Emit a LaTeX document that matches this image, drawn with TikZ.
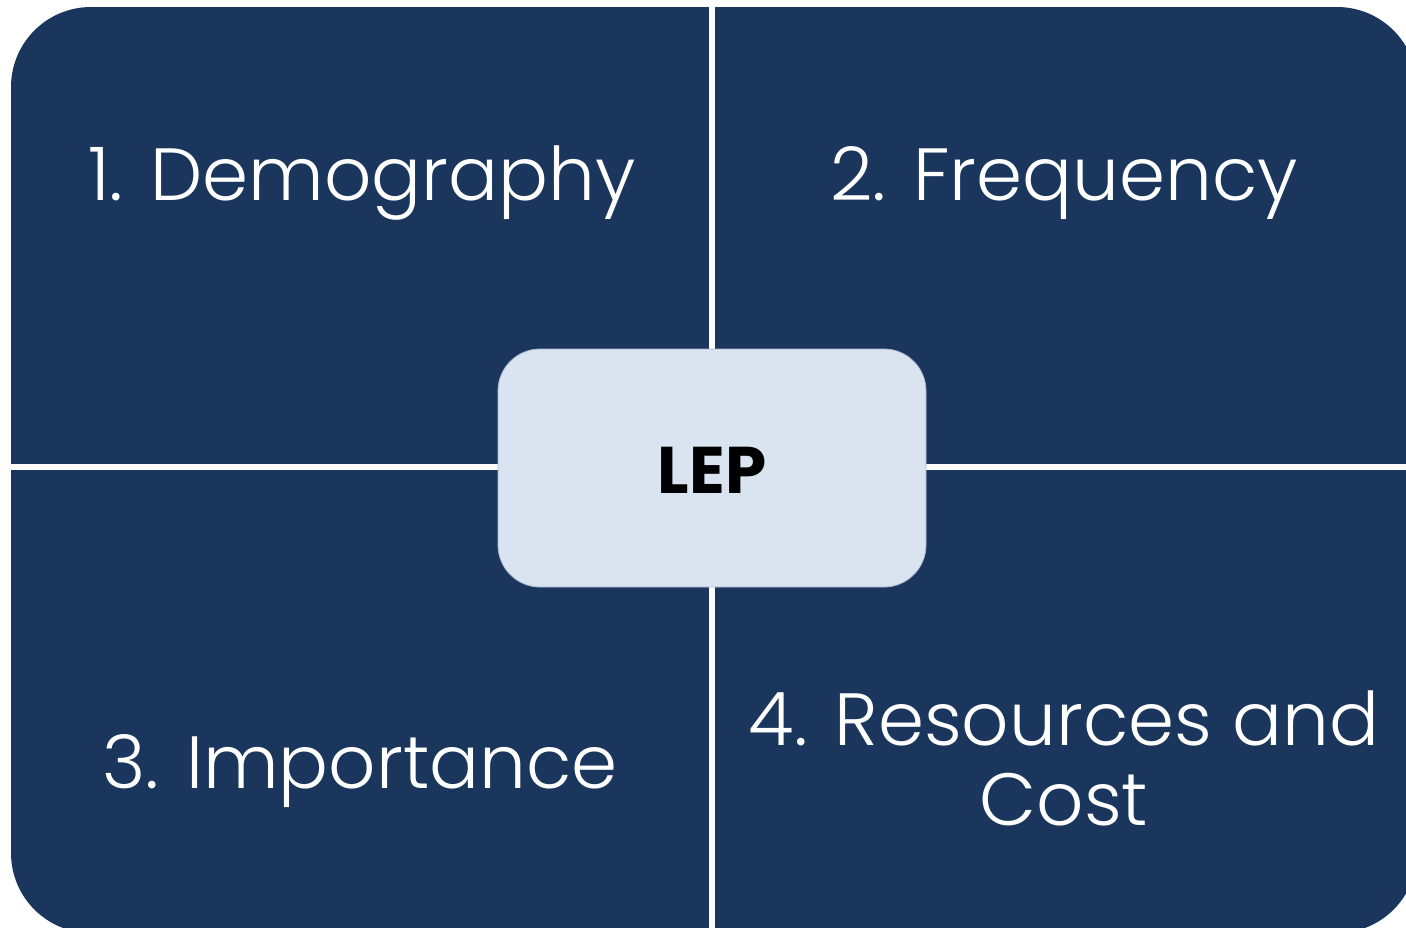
\documentclass[tikz,border=0pt]{standalone}
\usepackage{fontspec}
\setmainfont{Poppins}[UprightFont={* Light}, BoldFont={* Bold}]

\definecolor{navy}{RGB}{27,54,93}
\definecolor{lepblue}{RGB}{218,227,240}

\tikzset{
    quad/.style={fill=navy, rounded corners=40pt},
    gap/.style={fill=white},
    quadtext/.style={text=white, anchor=base, align=center,
        font=\fontsize{37}{40}\selectfont},
    lepbox/.style={fill=lepblue, draw=lepblue!75!navy, line width=0.4pt,
        rounded corners=21pt, minimum width=214pt, minimum height=119pt},
    leptext/.style={anchor=base, font=\fontsize{33}{36}\selectfont\bfseries},
}

\begin{document}
\begin{tikzpicture}[x=0.5pt, y=-0.5pt] % four factors round the LEP box
    \useasboundingbox (0,0) rectangle (1406,927);
    \fill[quad] (11,7) rectangle (1417,933);
    \fill[gap] (709,0) rectangle (715,940);
    \fill[gap] (0,464) rectangle (1420,470);

    \node[quadtext] (demo) at (362,200) {1. Demography};
    \node[quadtext] (freq) at (1064,200) {2. Frequency};
    \node[quadtext] (imp) at (360,788) {3. Importance};
    \node[quadtext] (res) at (1064,825) {4. Resources and\\Cost};

    \node[lepbox] (lep) at (712,468) {};
    \node[leptext] (leptext) at (712,493) {LEP};
\end{tikzpicture}
\end{document}
